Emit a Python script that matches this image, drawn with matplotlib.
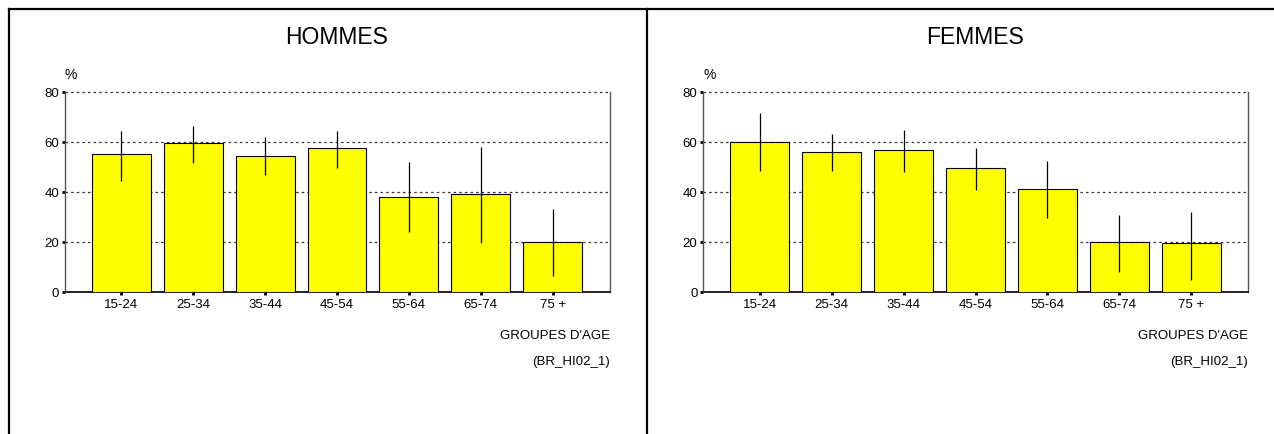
import matplotlib
matplotlib.use("Agg")
import matplotlib.pyplot as plt
from matplotlib.lines import Line2D

plt.rcParams['font.family'] = ['Liberation Sans', 'DejaVu Sans']

categories = ["15-24", "25-34", "35-44", "45-54", "55-64", "65-74", "75 +"]

hommes_values = [55.1, 59.7, 54.5, 57.6, 38.2, 39.3, 19.9]
hommes_low = [44.4, 51.7, 46.8, 49.5, 24.1, 19.6, 6.6]
hommes_high = [64.6, 66.6, 62.0, 64.6, 51.9, 58.0, 33.2]

femmes_values = [60.2, 56.0, 56.7, 49.5, 41.3, 19.9, 19.5]
femmes_low = [48.4, 48.4, 47.9, 40.9, 29.7, 8.2, 5.0]
femmes_high = [71.5, 63.2, 64.7, 57.6, 52.4, 30.9, 32.1]

yticks = [0, 20, 40, 60, 80]
titles = ["HOMMES", "FEMMES"]
xlabel = "GROUPES D'AGE"
source = "(BR_HI02_1)"

W, H = 1274, 435
fig = plt.figure(figsize=(W / 100, H / 100), dpi=100)


def fx(px):
    return px / W


def fy(py):
    return 1 - py / H


# outer frames
frame_kw = dict(color='black', lw=1.6, transform=fig.transFigure, solid_capstyle='projecting')
fig.add_artist(Line2D([fx(9), fx(9)], [fy(10), fy(440)], **frame_kw))
fig.add_artist(Line2D([fx(9), fx(1280)], [fy(10), fy(10)], **frame_kw))
fig.add_artist(Line2D([fx(647), fx(647)], [fy(10), fy(440)], **frame_kw))

panels = [
    (64.5, titles[0], hommes_values, hommes_low, hommes_high),
    (703.0, titles[1], femmes_values, femmes_low, femmes_high),
]

ax_w, ax_top, ax_bot = 545.0, 93.0, 293.0

for left, title, vals, lows, highs in panels:
    ax = fig.add_axes([fx(left), fy(ax_bot), ax_w / W, (ax_bot - ax_top) / H])
    x = list(range(len(categories)))
    yerr = [[v - l for v, l in zip(vals, lows)], [h - v for v, h in zip(vals, highs)]]
    ax.bar(x, vals, width=0.82, color='#FFFF00', edgecolor='black', linewidth=0.8, zorder=3)
    ax.errorbar(x, vals, yerr=yerr, fmt='none', ecolor='black', elinewidth=0.9,
                capsize=0, zorder=4)
    ax.set_xlim(-0.79, 6.79)
    ax.set_ylim(0, 80)
    ax.set_yticks(yticks)
    ax.set_xticks(x)
    ax.set_xticklabels(categories, fontsize=9.5)
    ax.set_yticklabels([str(t) for t in yticks], fontsize=9.5)
    for t in yticks[1:]:
        ax.axhline(t, color='#333333', lw=0.9, ls=(0, (2, 2.5)), zorder=1, clip_on=False)
    ax.spines['top'].set_visible(False)
    ax.spines['left'].set_color('#555555')
    ax.spines['right'].set_color('#555555')
    ax.spines['bottom'].set_color('#222222')
    ax.spines['bottom'].set_linewidth(1.4)
    ax.spines['left'].set_linewidth(1.0)
    ax.spines['right'].set_linewidth(1.0)
    ax.tick_params(axis='both', direction='out', length=2.5, width=2.0, color='black', pad=1.5)
    # texts
    cx = left + ax_w / 2
    fig.text(fx(cx), fy(37), title, ha='center', va='center', fontsize=16.5)
    fig.text(fx(left), fy(75), "%", ha='left', va='center', fontsize=10)
    fig.text(fx(left + ax_w), fy(336), xlabel, ha='right', va='center', fontsize=9.5)
    fig.text(fx(left + ax_w), fy(362), source, ha='right', va='center', fontsize=9.5)

fig.savefig("out.png", dpi=100)
